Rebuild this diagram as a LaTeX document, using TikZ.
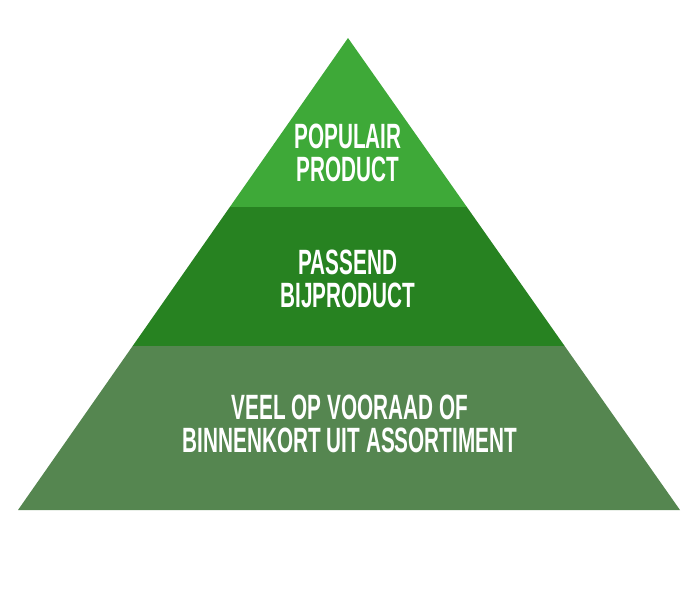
\documentclass[tikz,border=0pt]{standalone}
\usepackage{fontspec}
\setmainfont{Liberation Sans}[FakeStretch=0.59]
\usetikzlibrary{positioning,calc}
\definecolor{tiertop}{HTML}{3EA938}
\definecolor{tiermid}{HTML}{278221}
\definecolor{tierbase}{HTML}{558650}

\begin{document}
\begin{tikzpicture}[
    x=0.02cm, y=-0.02cm,
    tiertext/.style={text=white, font=\bfseries\fontsize{20}{19}\selectfont, align=center, inner sep=0pt}
]
    \useasboundingbox (0,0) rectangle (700,600);

    % Pyramid corners
    \coordinate (apex) at (348,38);
    \coordinate (bl) at (18,510);
    \coordinate (br) at (680,510);

    % Tier boundaries
    \coordinate (tl) at ($(apex)!0.358!(bl)$);
    \coordinate (tr) at ($(apex)!0.358!(br)$);
    \coordinate (ml) at ($(apex)!0.6525!(bl)$);
    \coordinate (mr) at ($(apex)!0.6525!(br)$);

    % Tiers
    \fill[tierbase] (ml) -- (mr) -- (br) -- (bl) -- cycle;
    \fill[tiermid] (tl) -- (tr) -- (mr) -- (ml) -- cycle;
    \fill[tiertop] (apex) -- (tr) -- (tl) -- cycle;

    % Texts
    \node[tiertext] (top) at (348,153) {POPULAIR\\PRODUCT};
    \node[tiertext] (mid) at (348,279) {PASSEND\\BIJPRODUCT};
    \node[tiertext] (base) at (350,424) {VEEL OP VOORAAD OF\\BINNENKORT UIT ASSORTIMENT};
\end{tikzpicture}
\end{document}
